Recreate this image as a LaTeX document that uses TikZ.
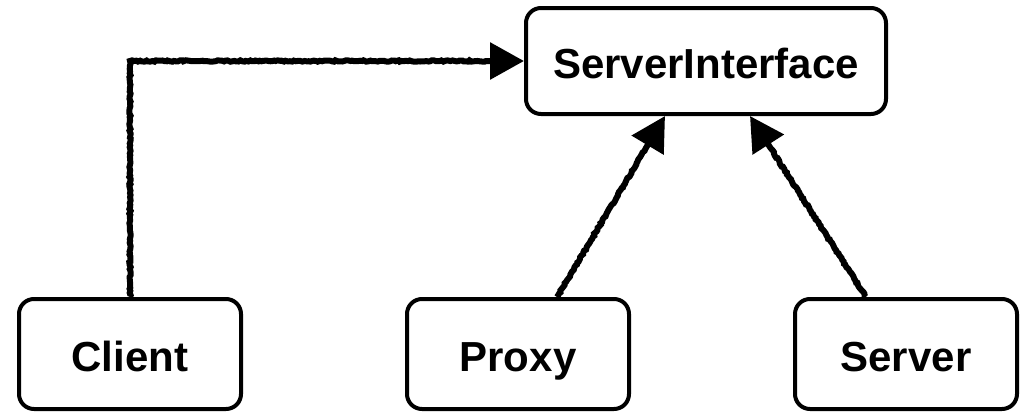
\documentclass[tikz,border=0pt]{standalone}
\usepackage{fontspec}
\setmainfont{Liberation Sans}
\usetikzlibrary{arrows.meta,positioning,calc,decorations.pathmorphing}

\tikzset{
  box/.style={draw, line width=4pt, rounded corners=15pt, minimum width=222pt,
    minimum height=110pt, font=\fontsize{42}{46}\bfseries, inner sep=0pt,
    text height=40pt, text depth=6pt},
  sketch/.style={line width=6pt, decorate,
    decoration={random steps, segment length=2pt, amplitude=0.7pt, post length=38pt},
    -{Triangle[length=34pt,width=36pt]}}
}

\begin{document}
\begin{tikzpicture}[x=1pt,y=-1pt]
  \useasboundingbox (0,0) rectangle (1026,418);

  % Boxes
  \node[box, minimum width=360pt, minimum height=106pt] (si) at (706,61) {ServerInterface};
  \node[box] (client) at (130,354) {Client};
  \node[box] (proxy) at (518,354) {Proxy};
  \node[box] (server) at (906,354) {Server};

  % Arrows
  \draw[sketch] (client.north) |- (si.west);
  \draw[sketch] ($(proxy.north)+(39,0)$) -- ($(si.south)+(-41,0)$);
  \draw[sketch] ($(server.north)+(-40,0)$) -- ($(si.south)+(44,0)$);
\end{tikzpicture}
\end{document}
